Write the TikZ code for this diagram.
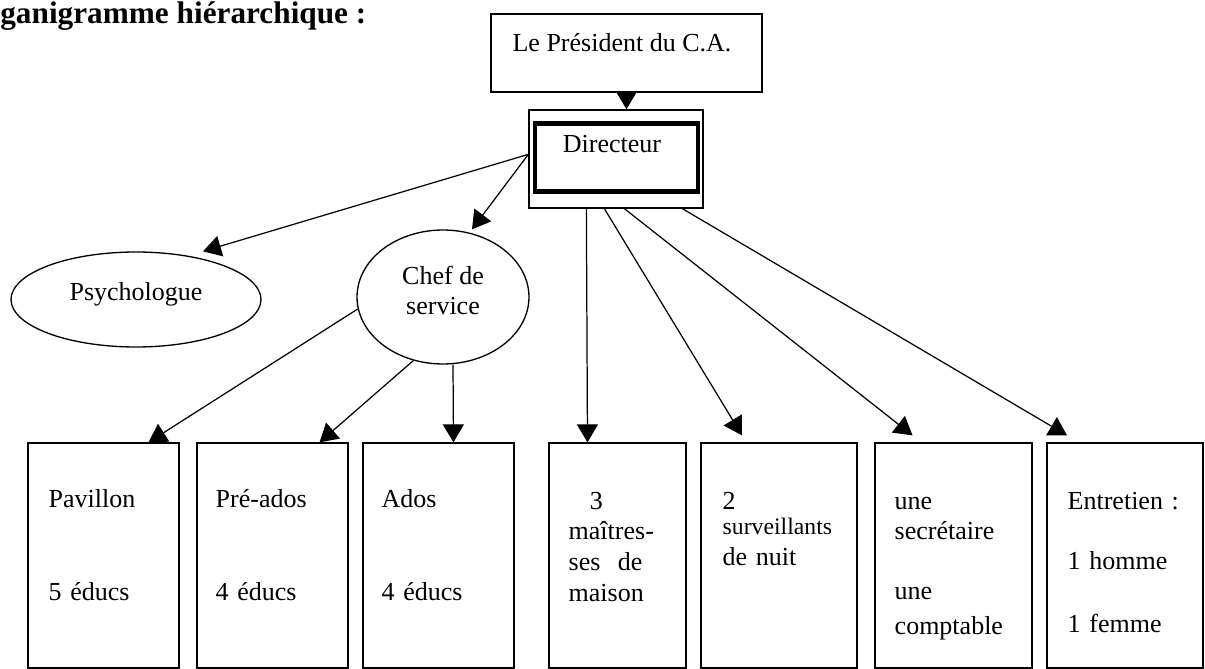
\documentclass[tikz,border=0pt]{standalone}
\usepackage{fontspec}
\setmainfont{Liberation Serif}
\usetikzlibrary{calc, shapes.geometric, positioning, arrows.meta}

\begin{document}
\begin{tikzpicture}[x=0.02cm, y=-0.02cm, font=\fontsize{14.8}{17.4}\selectfont,
    boite/.style={draw, line width=0.75pt, inner sep=0pt, minimum height=4.5cm},
    bulle/.style={draw, ellipse, line width=0.75pt, inner sep=0pt, align=center},
    fleche/.style={-{Triangle[length=0.36cm, width=0.42cm]}, line width=0.7pt},
    txt/.style={anchor=base west, inner sep=0pt, text width=2.7cm}]
    \useasboundingbox (0,0) rectangle (1205,669);
    % Titre
    \node[anchor=base west, inner sep=0pt, font=\fontsize{17.8}{20}\selectfont\bfseries] (titre) at (0,24) {ganigramme hiérarchique :};

    % Président et directeur
    \node[draw, line width=0.75pt, minimum width=5.42cm, minimum height=1.56cm] (pres) at (626.5,53) {};
    \node[anchor=base, inner sep=0pt] (presT) at (622,52) {Le Président du C.A.};
    \node[draw, line width=0.75pt, minimum width=3.48cm, minimum height=1.96cm] (dir) at (616,159) {};
    \node[draw, line width=2.4pt, minimum width=3.26cm, minimum height=1.36cm] (dirIn) at (616.5,157.5) {};
    \node[anchor=base, inner sep=0pt] (dirT) at (612,153) {Directeur};

    % Psychologue et chef de service
    \node[bulle, minimum width=5cm, minimum height=1.9cm] (psy) at (136,299.5) {Psychologue\\[-8pt]\mbox{}};
    \node[bulle, minimum width=3.44cm, minimum height=2.68cm] (chef) at (443,297) {Chef de\\service\\[-10pt]\mbox{}};

    % Les services
    \node[boite, minimum width=3.02cm] (b1) at (103.5,555.5) {};
    \node[boite, minimum width=3.02cm] (b2) at (272.5,555.5) {};
    \node[boite, minimum width=3.02cm] (b3) at (438.5,555.5) {};
    \node[boite, minimum width=2.74cm] (b4) at (617.5,555.5) {};
    \node[boite, minimum width=3.12cm] (b5) at (779,555.5) {};
    \node[boite, minimum width=3.14cm] (b6) at (953.5,555.5) {};
    \node[boite, minimum width=3.12cm] (b7) at (1125,555.5) {};

    \node[txt] (t1) at ($(b1.north west)+(21,65)$) {Pavillon\\[35.5pt]5 éducs};
    \node[txt] (t2) at ($(b2.north west)+(19,65)$) {Pré-ados\\[35.5pt]4 éducs};
    \node[txt] (t3) at ($(b3.north west)+(19,65)$) {Ados\\[35.5pt]4 éducs};
    \node[txt] (t4) at ($(b4.north west)+(20,67)$) {\hspace*{12pt}3\\maîtres-\\ses\ \ de\\maison};
    \node[txt] (t5) at ($(b5.north west)+(22,67)$) {2\\[-3pt]{\fontsize{13.5}{15}\selectfont surveillants}\\de nuit};
    \node[txt] (t6) at ($(b6.north west)+(20,67)$) {une\\secrétaire\\[16.7pt]une\\[2.5pt]comptable};
    \node[txt] (t7) at ($(b7.north west)+(21,67)$) {Entretien :\\[16.7pt]1 homme\\[18.5pt]1 femme};

    % Les flèches
    \coordinate (dirG) at ($(dir.north west)+(0,45)$);
    \draw[fleche] (pres.south) -- (pres.south |- dir.north);
    \draw[fleche] (dirG) -- ($(psy.north)+(67,0)$);
    \draw[fleche] (dirG) -- ($(chef.north)+(29,0)$);
    \draw[fleche] (chef.188) -- ($(b1.north)+(45,0)$);
    \draw[fleche] (chef.245) -- ($(b2.north)+(47,0)$);
    \draw[fleche] ($(chef.south)+(10,0)$) -- ($(b3.north)+(15,0)$);
    \draw[fleche] ($(dir.south west)+(58,0)$) -- ($(b4.north)+(-30,0)$);
    \draw[fleche] ($(dir.south west)+(76,0)$) -- ($(b5.north)+(-37,-7)$);
    \draw[fleche] ($(dir.south west)+(96,0)$) -- ($(b6.north)+(-41,-7)$);
    \draw[fleche] ($(dir.south west)+(154,0)$) -- ($(b7.north)+(-58,-7)$);
\end{tikzpicture}
\end{document}
